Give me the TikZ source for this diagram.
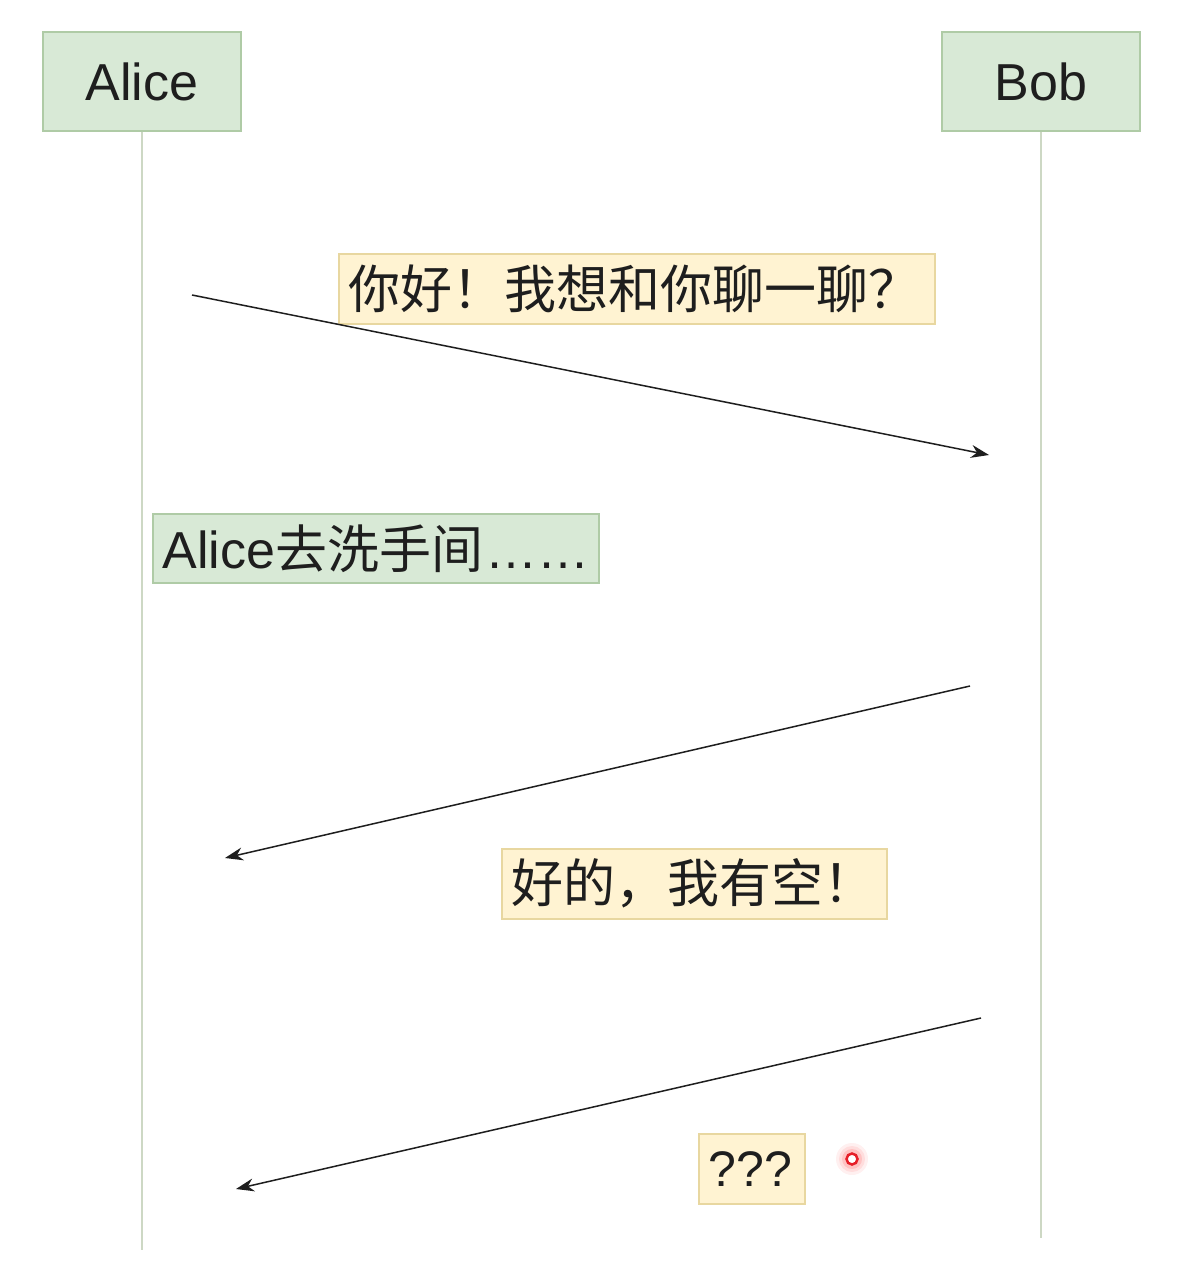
\documentclass[tikz,border=0pt]{standalone}
\usepackage{fontspec}
\setmainfont{Liberation Sans}
\newfontfamily\cjk{Noto Sans CJK SC}
\usetikzlibrary{arrows.meta}
\definecolor{gfill}{HTML}{D8E9D6}
\definecolor{gline}{HTML}{AFCBA6}
\definecolor{yfill}{HTML}{FFF3D2}
\definecolor{yline}{HTML}{E8D7A0}
\definecolor{lifec}{HTML}{CDD8C4}
\definecolor{ink}{HTML}{1E1E1E}
\begin{document}
\begin{tikzpicture}[x=1pt,y=-1pt,
  actor/.style={draw=gline,fill=gfill,line width=1.5pt,minimum width=198pt,minimum height=99pt,inner sep=0pt,font=\fontsize{52}{60}\selectfont,text=ink},
  notegreen/.style={draw=gline,fill=gfill,line width=1.5pt,anchor=north west,minimum height=69pt,inner xsep=10pt,inner ysep=0pt,align=left,font=\fontsize{52}{58}\selectfont,text=ink},
  noteyellow/.style={draw=yline,fill=yfill,line width=1.5pt,anchor=north west,minimum height=70pt,inner xsep=10pt,inner ysep=0pt,align=left,font=\fontsize{52}{58}\selectfont,text=ink},
  life/.style={draw=lifec,line width=2pt},
  msg/.style={draw=ink,line width=1.5pt,-{Stealth[length=18pt,width=13pt]}}]
\useasboundingbox[fill=white] (0,0) rectangle (1178,1284);
% lifelines
\coordinate (aend) at (142,1250);
\coordinate (bend) at (1041,1238);
\node[actor] (alice) at (142,81.5) {Alice};
\node[actor] (bob) at (1041,81.5) {Bob};
\draw[life] (alice.south) -- (aend);
\draw[life] (bob.south) -- (bend);
% message 1
\node[noteyellow,text width=576pt] (m1) at (338,253) {\raisebox{-3pt}{\cjk 你好！我想和你聊一聊？}};
\coordinate (s1) at (192,295);
\coordinate (e1) at (989,455);
\draw[msg] (s1) -- (e1);
% note
\node[notegreen,text width=426pt] (n1) at (152,513) {\raisebox{-2pt}{Alice\cjk 去洗手间\rmfamily\kern2pt……}};
% message 2
\coordinate (s2) at (970,686);
\coordinate (e2) at (225,858);
\draw[msg] (s2) -- (e2);
\node[noteyellow,text width=365pt] (m2) at (501,848) {\raisebox{-3pt}{\cjk 好的，我有空！}};
% message 3
\coordinate (s3) at (981,1018);
\coordinate (e3) at (236,1189);
\draw[msg] (s3) -- (e3);
\node[noteyellow,text width=86pt,font=\fontsize{50}{56}\selectfont] (m3) at (698,1133) {???};
% cursor dot
\foreach \r/\o in {16/0.06,13/0.08,10/0.12}{
  \fill[red,opacity=\o] (852,1159) circle (\r pt);
}
\node[circle,draw={rgb,255:red,230;green,30;blue,40},line width=2.5pt,fill=white,minimum size=11pt,inner sep=0pt] (dot) at (852,1159) {};
\end{tikzpicture}
\end{document}
